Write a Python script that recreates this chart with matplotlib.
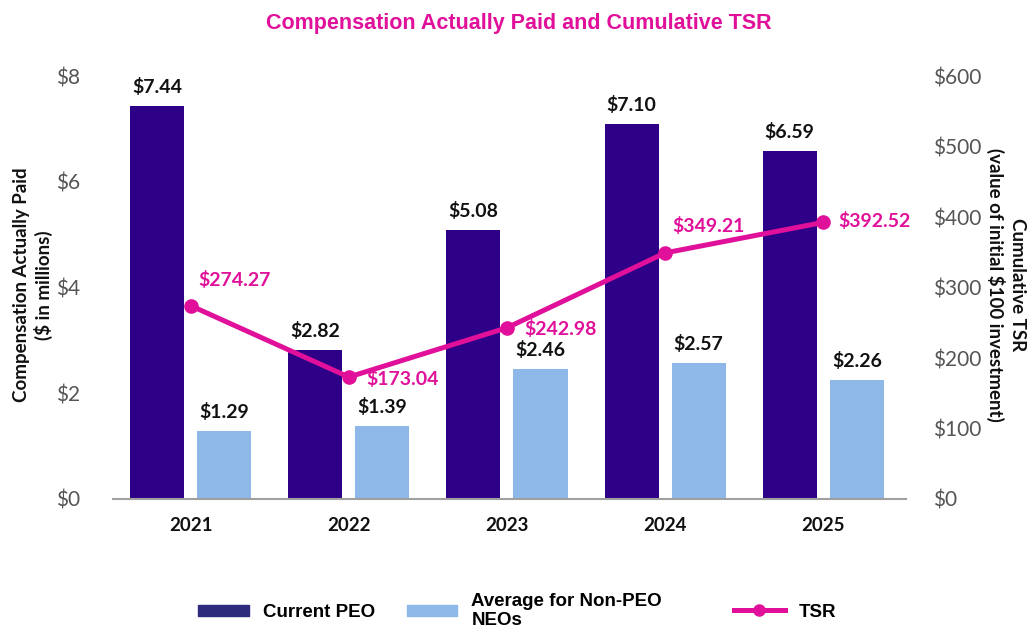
import numpy as np
import matplotlib.pyplot as plt
from matplotlib.patches import Patch
from matplotlib.lines import Line2D

years = ['2021', '2022', '2023', '2024', '2025']
peo = [7.44, 2.82, 5.08, 7.10, 6.59]      # $ millions
neo = [1.29, 1.39, 2.46, 2.57, 2.26]      # $ millions
tsr = [274.27, 173.04, 242.98, 349.21, 392.52]

left_ticks = [0, 2, 4, 6, 8]
right_ticks = [0, 100, 200, 300, 400, 500, 600]

c_peo = '#2E0087'
c_neo = '#8DB8E8'
c_tsr = '#E0109A'
c_tick = '#555555'

fig = plt.figure(figsize=(10.29, 6.33), dpi=100)
ax = fig.add_axes([0.110, 0.2117, 0.770, 0.668])
ax2 = ax.twinx()

x = np.arange(len(years))
w = 0.342
b1 = ax.bar(x - 0.212, peo, w, color=c_peo)
b2 = ax.bar(x + 0.212, neo, w, color=c_neo)

for bars, vals in [(b1, peo), (b2, neo)]:
    for r, v in zip(bars, vals):
        ax.annotate('$%.2f' % v, (r.get_x() + r.get_width() / 2, v),
                    xytext=(0, 19), textcoords='offset pixels',
                    ha='center', va='center', fontsize=14,
                    family='Lato', weight='bold', color='#111111')

ax2.plot(x, tsr, color=c_tsr, lw=3.6, marker='o', ms=9.5)

# label offsets (pixels) for each TSR point
offs = [(8, 26), (17, -2), (17, -1), (7, 27), (15, 1)]
for xi, v, (dx, dy) in zip(x, tsr, offs):
    ax2.annotate('$%.2f' % v, (xi, v), xytext=(dx, dy), textcoords='offset pixels',
                 ha='left', va='center', fontsize=14, family='Lato',
                 weight='bold', color=c_tsr)

ax.set_xlim(-0.49, 4.52)
ax.set_ylim(0, 8)
ax2.set_ylim(0, 600)
ax.set_xticks(x)
ax.set_xticklabels(years, family='Lato', weight='bold', fontsize=13.5, color='#111111')
ax.set_yticks(left_ticks)
ax.set_yticklabels(['$%d' % t for t in left_ticks], family='Lato',
                   fontsize=15, color=c_tick)
ax2.set_yticks(right_ticks)
ax2.set_yticklabels(['$%d' % t for t in right_ticks], family='Lato',
                    fontsize=15, color=c_tick)
ax.tick_params(axis='x', length=0, pad=13)
ax.tick_params(axis='y', length=0, pad=24)
ax2.tick_params(length=0, pad=19.5)

for a in (ax, ax2):
    for s in ['top', 'left', 'right', 'bottom']:
        a.spines[s].set_visible(False)
ax.spines['bottom'].set_visible(True)
ax.spines['bottom'].set_color('#A0A0A0')
ax.spines['bottom'].set_linewidth(1.5)

fig.text(33 / 1029, 1 - 285 / 633, 'Compensation Actually Paid\n($ in millions)',
         rotation=90, ha='center', va='center', family='Lato', weight='bold',
         fontsize=13.5, color='#111111')
fig.text(1006 / 1029, 1 - 285 / 633, 'Cumulative TSR\n(value of initial $100 investment)',
         rotation=270, ha='center', va='center', family='Lato', weight='bold',
         fontsize=13.5, color='#111111')

fig.text(0.504, 0.963, 'Compensation Actually Paid and Cumulative TSR',
         ha='center', va='center', family='Liberation Sans', weight='bold',
         fontsize=15.5, color=c_tsr)

leg_font = {'family': 'Liberation Sans', 'weight': 'bold', 'size': 13.5}
h_bars = [Patch(color='#2E2B7C'), Patch(color=c_neo)]
leg1 = fig.legend(h_bars, ['Current PEO', 'Average for Non-PEO\nNEOs'],
                  loc='center left', bbox_to_anchor=(198 / 1029, 0.035), ncol=2,
                  frameon=False, prop=leg_font, borderpad=0, borderaxespad=0,
                  handlelength=2.7, handleheight=0.55, handletextpad=0.75,
                  columnspacing=1.7)
h_line = [Line2D([], [], color=c_tsr, lw=3.6, marker='o', ms=8)]
fig.legend(h_line, ['TSR'], loc='center left', bbox_to_anchor=(734 / 1029, 0.033),
           frameon=False, prop=leg_font, borderpad=0, borderaxespad=0,
           handlelength=2.7, handletextpad=0.75)

plt.savefig('out.png', dpi=100)
